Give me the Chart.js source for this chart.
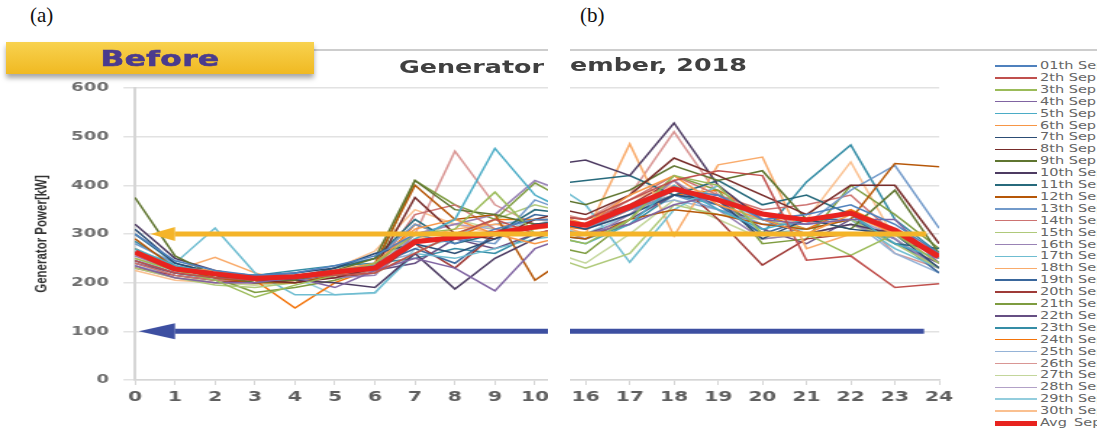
<!DOCTYPE html>
<html>
<head>
<meta charset="utf-8">
<script src="https://cdn.jsdelivr.net/npm/chart.js@4.4.1/dist/chart.umd.min.js"></script>
<style>
	html, body { margin: 0; padding: 0; background: #fff; }
	body { width: 1097px; height: 428px; position: relative; overflow: hidden; font-family: 'DejaVu Sans', sans-serif; }
	.panel-label { position: absolute; top: 3px; font-family: 'Liberation Serif', 'DejaVu Serif', serif; font-size: 21px; color: #111; }
	.clip { position: absolute; top: 0; height: 428px; overflow: hidden; }
	.stretch { position: absolute; top: 0; transform: scaleX(1.45); transform-origin: 0 0; }
	.rule { position: absolute; top: 49px; height: 2px; background: #cdcdcd; }
	.title { position: absolute; font-weight: bold; font-size: 17.5px; color: #404040; transform: scaleX(1.45); transform-origin: 0 0; white-space: nowrap; }
	.banner { position: absolute; left: 6px; top: 42px; width: 308px; height: 32px;
		background: linear-gradient(#f8d24f, #f0b922); box-shadow: 0 4px 5px rgba(0,0,0,0.35);
		display: flex; align-items: center; justify-content: center; }
	.banner span { display: inline-block; font-weight: bold; font-size: 21.5px; color: #4a3b8e;
		-webkit-text-stroke: 0.6px #4a3b8e; transform: scaleX(1.45); letter-spacing: 0.3px; }
	.leg-row { position: absolute; left: 995px; height: 12px; width: 110px; }
	.leg-line { position: absolute; left: 0; width: 42px; }
	.leg-text { position: absolute; left: 45px; top: 0; font-size: 10px; line-height: 12px; color: #666;
		transform: scaleX(1.45); transform-origin: 0 0; white-space: nowrap; }
</style>
</head>
<body>
<div class="panel-label" style="left:30px;">(a)</div>
<div class="panel-label" style="left:580px;">(b)</div>

<div class="rule" style="left:314px; width:234px;"></div>
<div class="rule" style="left:570px; width:527px;"></div>

<div class="clip" style="left:0; width:548px;">
	<div class="stretch" style="left:0;"><canvas id="chartA" width="420" height="428"></canvas></div>
</div>
<div class="clip" style="left:570px; width:400px;">
	<div class="stretch" style="left:-21.3px;"><canvas id="chartB" width="284" height="428"></canvas></div>
</div>

<div class="banner"><span>Before</span></div>
<div class="title" style="left:399px; top:57px;">Generator</div>
<div class="title" style="left:570px; top:55px;">ember, 2018</div>

<div id="legend"></div>

<script>
// hours of the day; 13 and 14 fall in the gap between the two panels
const hours = [0, 1, 2, 3, 4, 5, 6, 7, 8, 9, 10, 11, 12, 13, 14, 15, 16, 17, 18, 19, 20, 21, 22, 23, 24];
const ticksA = [0, 1, 2, 3, 4, 5, 6, 7, 8, 9, 10];
const ticksB = [16, 17, 18, 19, 20, 21, 22, 23, 24];
const yTicks = [0, 100, 200, 300, 400, 500, 600];

// generator power per day [kW]
const sep01 = [300, 245, 225, 215, 220, 235, 255, 300, 280, 310, 330, 330, 320, null, null, 330, 320, 350, 390, 380, 330, 340, 360, 320, 260];
const sep02 = [245, 220, 210, 205, 210, 215, 220, 260, 300, 330, 300, 320, 330, null, null, 340, 330, 370, 410, 430, 420, 246, 255, 190, 198];
const sep03 = [250, 225, 205, 170, 195, 215, 240, 300, 310, 386, 300, 310, 320, null, null, 300, 280, 330, 420, 400, 300, 300, 256, 300, 240];
const sep04 = [235, 210, 200, 200, 210, 190, 225, 250, 230, 183, 270, 300, 310, null, null, 310, 300, 320, 360, 380, 330, 320, 330, 330, 240];
const sep05 = [270, 235, 220, 215, 215, 225, 235, 290, 330, 476, 380, 340, 330, null, null, 300, 280, 320, 400, 350, 310, 330, 340, 280, 250];
const sep06 = [260, 230, 225, 210, 215, 225, 240, 310, 330, 300, 280, 300, 310, null, null, 350, 320, 380, 420, 360, 330, 300, 340, 300, 260];
const sep07 = [310, 240, 220, 215, 220, 230, 260, 280, 260, 290, 320, 330, 320, null, null, 330, 310, 340, 380, 370, 290, 330, 310, 300, 230];
const sep08 = [260, 230, 215, 205, 200, 210, 230, 375, 300, 290, 330, 350, 360, null, null, 360, 340, 380, 456, 420, 380, 340, 400, 400, 280];
const sep09 = [375, 255, 215, 200, 205, 225, 250, 410, 350, 340, 320, 330, 330, null, null, 380, 360, 390, 440, 410, 430, 330, 310, 390, 260];
const sep10 = [320, 250, 225, 210, 205, 200, 190, 260, 187, 250, 290, 320, 330, null, null, 440, 452, 420, 528, 400, 330, 300, 320, 300, 260];
const sep11 = [300, 240, 220, 205, 210, 230, 250, 330, 280, 300, 350, 340, 330, null, null, 400, 410, 420, 380, 410, 360, 380, 340, 280, 270];
const sep12 = [290, 230, 210, 200, 200, 215, 240, 400, 330, 340, 205, 260, 290, null, null, 300, 290, 330, 350, 340, 320, 310, 330, 445, 438];
const sep13 = [280, 240, 215, 210, 220, 235, 250, 320, 290, 280, 370, 340, 330, null, null, 330, 310, 350, 380, 350, 320, 320, 390, 441, 312];
const sep14 = [240, 215, 205, 205, 210, 215, 225, 340, 360, 310, 300, 320, 330, null, null, 340, 320, 370, 420, 380, 350, 360, 380, 300, 250];
const sep15 = [230, 210, 195, 190, 200, 215, 220, 260, 300, 330, 360, 340, 330, null, null, 260, 230, 260, 360, 340, 330, 310, 330, 280, 230];
const sep16 = [255, 225, 215, 205, 205, 210, 215, 300, 320, 340, 410, 380, 360, null, null, 320, 290, 340, 410, 350, 290, 300, 320, 290, 230];
const sep17 = [265, 240, 312, 220, 175, 175, 180, 260, 250, 270, 290, 300, 310, null, null, 420, 360, 242, 350, 400, 300, 310, 330, 270, 230];
const sep18 = [250, 225, 252, 220, 200, 215, 230, 290, 310, 320, 310, 320, 330, null, null, 330, 300, 485, 296, 442, 458, 270, 300, 300, 240];
const sep19 = [245, 220, 210, 210, 215, 225, 235, 270, 240, 300, 340, 330, 320, null, null, 320, 320, 350, 390, 360, 300, 330, 330, 290, 220];
const sep20 = [230, 215, 205, 200, 205, 210, 220, 280, 230, 300, 310, 330, 340, null, null, 340, 330, 360, 410, 330, 236, 290, 300, 310, 250];
const sep21 = [260, 230, 210, 180, 190, 205, 230, 410, 360, 330, 405, 360, 340, null, null, 280, 260, 330, 420, 390, 280, 290, 400, 340, 270];
const sep22 = [240, 220, 210, 200, 205, 215, 225, 240, 290, 270, 300, 320, 330, null, null, 310, 300, 330, 380, 370, 310, 280, 330, 280, 240];
const sep23 = [285, 235, 220, 215, 225, 235, 240, 250, 270, 260, 300, 310, 320, null, null, 300, 290, 320, 380, 360, 300, 407, 483, 330, 260];
const sep24 = [270, 230, 215, 205, 148, 200, 230, 320, 290, 330, 330, 330, 320, null, null, 320, 310, 350, 380, 390, 340, 310, 350, 310, 250];
const sep25 = [235, 215, 205, 200, 210, 225, 240, 260, 300, 320, 330, 320, 320, null, null, 330, 320, 350, 370, 350, 330, 320, 330, 260, 220];
const sep26 = [230, 210, 200, 200, 210, 230, 250, 300, 470, 360, 320, 320, 330, null, null, 350, 330, 380, 510, 380, 340, 320, 350, 260, 230];
const sep27 = [240, 215, 200, 195, 200, 215, 225, 280, 330, 310, 300, 310, 320, null, null, 270, 240, 300, 370, 330, 290, 300, 320, 280, 230];
const sep28 = [245, 220, 210, 210, 215, 220, 230, 300, 320, 310, 330, 330, 330, null, null, 330, 310, 340, 390, 360, 320, 310, 330, 300, 240];
const sep29 = [250, 220, 205, 205, 210, 175, 178, 270, 290, 300, 330, 320, 320, null, null, 320, 300, 340, 390, 370, 330, 320, 340, 290, 230];
const sep30 = [225, 205, 200, 195, 205, 230, 265, 350, 320, 300, 320, 320, 330, null, null, 350, 330, 370, 400, 380, 340, 330, 448, 290, 230];
const avgSep = [263, 228, 218, 209, 212, 222, 230, 284, 293, 301, 315, 322, 325, null, null, 330, 318, 356, 393, 370, 341, 329, 343, 308, 253];

const dayValues = [sep01, sep02, sep03, sep04, sep05, sep06, sep07, sep08, sep09, sep10,
	sep11, sep12, sep13, sep14, sep15, sep16, sep17, sep18, sep19, sep20,
	sep21, sep22, sep23, sep24, sep25, sep26, sep27, sep28, sep29, sep30];
const dayNames = dayValues.map((v, i) => (i === 0 ? '01th Sep' : `${i + 1}th Sep`));
const dayColors = ['#4F81BD', '#C0504D', '#9BBB59', '#8064A2', '#4BACC6', '#F79646',
	'#2C4D75', '#772C2A', '#5F7530', '#4D3B62', '#276A7C', '#B65708',
	'#729ACA', '#CD7371', '#AFC97A', '#9983B5', '#6FBDD1', '#F9AB6B',
	'#3A679C', '#9F3B38', '#7E9C40', '#664F83', '#358DA6', '#F3740B',
	'#95B3D7', '#D99694', '#C3D69B', '#B2A1C7', '#93CDDD', '#FAC090'];

// reference levels drawn as arrows
const targetLevel = 300;
const minLevel = 100;

const toPoints = vals => hours.map((h, i) => ({ x: h, y: vals[i] }));

function buildDatasets(arrows) {
	const sets = dayValues.map((vals, i) => ({
		label: dayNames[i],
		data: toPoints(vals),
		borderColor: dayColors[i],
		borderWidth: 1.5,
		order: 2
	}));
	sets.push({
		label: 'Avg_Sep',
		data: toPoints(avgSep),
		borderColor: '#E8231F',
		borderWidth: 5,
		borderJoinStyle: 'round',
		order: 1
	});
	sets.push({
		label: 'target',
		data: [{ x: arrows.orangeFrom, y: targetLevel }, { x: arrows.orangeTo, y: targetLevel }],
		borderColor: '#F4B429',
		borderWidth: 5,
		order: 0,
		head: arrows.heads ? { len: 17, half: 7 } : null
	});
	sets.push({
		label: 'min',
		data: [{ x: arrows.blueFrom, y: minLevel }, { x: arrows.blueTo, y: minLevel }],
		borderColor: '#3D4FA1',
		borderWidth: 5,
		order: 0,
		head: arrows.heads ? { len: 25, half: 8 } : null
	});
	return sets;
}

const arrowHeads = {
	id: 'arrowHeads',
	afterDatasetsDraw(chart) {
		const ctx = chart.ctx;
		chart.data.datasets.forEach((ds, i) => {
			if (!ds.head) return;
			const pt = chart.getDatasetMeta(i).data[0];
			if (!pt) return;
			ctx.save();
			ctx.fillStyle = ds.borderColor;
			ctx.beginPath();
			ctx.moveTo(pt.x - ds.head.len, pt.y);
			ctx.lineTo(pt.x, pt.y - ds.head.half);
			ctx.lineTo(pt.x, pt.y + ds.head.half);
			ctx.closePath();
			ctx.fill();
			ctx.restore();
		});
	}
};

const gridColor = '#E2E2E2';
const axisColor = '#D6D6D6';

function xScale(min, max, tickList) {
	return {
		type: 'linear', min, max,
		afterFit: s => { s.height = 48; },
		afterBuildTicks: s => { s.ticks = tickList.map(v => ({ value: v })); },
		grid: { drawOnChartArea: false, drawTicks: true, tickLength: 5, color: axisColor },
		border: { color: axisColor, width: 1.5 },
		ticks: { padding: 4, color: '#5f5f5f', font: { family: 'DejaVu Sans', size: 14, weight: 'bold' } }
	};
}

const baseOptions = {
	responsive: false,
	animation: false,
	events: [],
	elements: { point: { radius: 0, hoverRadius: 0 }, line: { tension: 0 } },
	plugins: { legend: { display: false }, tooltip: { enabled: false } }
};

const chartA = new Chart(document.getElementById('chartA'), {
	type: 'line',
	data: { datasets: buildDatasets({ heads: true, orangeFrom: 1, orangeTo: 11, blueFrom: 1, blueTo: 11 }) },
	options: {
		...baseOptions,
		layout: { padding: { top: 88, right: 42, bottom: 0, left: 0 } },
		scales: {
			x: xScale(0, 10.33, ticksA),
			y: {
				min: 0, max: 600,
				afterFit: s => { s.width = 93.1; },
				afterBuildTicks: s => { s.ticks = yTicks.map(v => ({ value: v })); },
				grid: { color: gridColor, lineWidth: 1.5, drawTicks: true, tickLength: 8 },
				border: { color: axisColor, width: 2 },
				ticks: { padding: 10, color: '#6e6e6e', font: { family: 'DejaVu Sans', size: 12.5, weight: 'bold' } },
				title: {
					display: true,
					text: 'Generator Power[kW]',
					color: '#333',
					padding: { top: 22, bottom: 0 },
					font: { family: 'Liberation Sans', size: 11.5, weight: 'bold' }
				}
			}
		}
	},
	plugins: [arrowHeads]
});

const chartB = new Chart(document.getElementById('chartB'), {
	type: 'line',
	data: { datasets: buildDatasets({ heads: false, orangeFrom: 15, orangeTo: 23.71, blueFrom: 15, blueTo: 23.66 }) },
	options: {
		...baseOptions,
		layout: { padding: { top: 88, right: 15, bottom: 0, left: 10 } },
		scales: {
			x: xScale(15.5, 24, ticksB),
			y: {
				min: 0, max: 600,
				afterFit: s => { s.width = 0; },
				afterBuildTicks: s => { s.ticks = yTicks.map(v => ({ value: v })); },
				grid: { color: gridColor, lineWidth: 1.5, drawTicks: false },
				border: { display: false },
				ticks: { display: false }
			}
		}
	}
});

// legend on the right, built from the chart's own series
const legendEl = document.getElementById('legend');
chartB.data.datasets.filter(ds => ds.order > 0).forEach((ds, i) => {
	const row = document.createElement('div');
	row.className = 'leg-row';
	row.style.top = (66 + i * 11.9 - 6) + 'px';
	const line = document.createElement('div');
	line.className = 'leg-line';
	const w = ds.borderWidth > 2 ? 5 : 1.5;
	line.style.height = w + 'px';
	line.style.top = (6 - w / 2) + 'px';
	line.style.background = ds.borderColor;
	const text = document.createElement('span');
	text.className = 'leg-text';
	text.textContent = ds.label;
	row.appendChild(line);
	row.appendChild(text);
	legendEl.appendChild(row);
});
</script>
</body>
</html>
